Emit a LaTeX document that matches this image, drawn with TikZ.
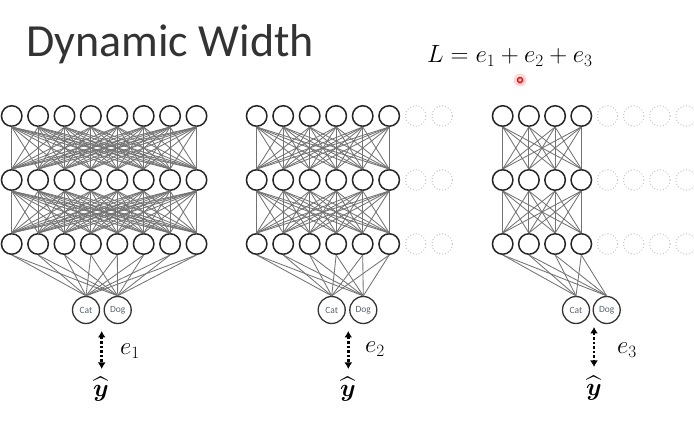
\documentclass[tikz,border=0pt]{standalone}
\usepackage{amsmath, amssymb}
\usepackage{fontspec}
\newfontfamily\calibri{Carlito}
\usepackage{tikz}
\usetikzlibrary{arrows.meta}
\definecolor{catdog}{HTML}{5A6470}

\begin{document}
\begin{tikzpicture}[x=1pt, y=-1pt,
    neuron/.style={circle, draw=black!85, line width=1.5pt, minimum size=20.5pt, inner sep=0pt},
    ghost/.style={circle, draw=black!22, dotted, line width=1pt, minimum size=20.5pt, inner sep=0pt},
    outnode/.style={circle, draw=black!80, line width=1.3pt, minimum size=27pt, inner sep=0pt,
      font=\calibri\fontsize{9.5}{10}\selectfont, text=catdog},
    conn/.style={black!55, line width=0.85pt},
    errarrow/.style={dash pattern=on 2.6pt off 1.9pt, line width=2.5pt,
      {Latex[length=6.5pt,width=8pt]}-{Latex[length=6.5pt,width=8pt]}},
    elabel/.style={anchor=base west, inner sep=0pt, font=\fontsize{24}{27}\selectfont},
    target/.style={anchor=base, inner sep=0pt, font=\fontsize{27}{30}\selectfont}]
  \useasboundingbox (0,0) rectangle (694,430);
  % --- Titre et fonction de perte ---
  \node[anchor=base west, inner sep=0pt, font=\calibri\fontsize{46}{50}\selectfont, text=black!80]
    (title) at (26,57) {Dynamic Width};
  \node[anchor=base west, inner sep=0pt, font=\fontsize{23.5}{27}\selectfont]
    (loss) at (427,63) {$L = e_1 + e_2 + e_3$};
  % pointeur laser
  \node[circle, fill=red!25, opacity=0.6, minimum size=13pt, inner sep=0pt] (pointer) at (520,80) {};
  \node[circle, draw=red, fill=red!15, line width=1.4pt, minimum size=5pt, inner sep=0pt] at (pointer) {};

  % --- Reseau 1 : huit neurones par couche ---
  \foreach \r/\y in {1/116,2/180,3/244}
    \foreach \i in {1,...,8}
      \node[neuron] (a-\r-\i) at ({11.7+26.4*(\i-1)},\y) {};
  \foreach \i in {1,...,8}
    \foreach \j in {1,...,8} {
      \draw[conn] (a-1-\i.south) -- (a-2-\j.north);
      \draw[conn] (a-2-\i.south) -- (a-3-\j.north);
    }
  \node[outnode] (a-cat) at (86,310) {Cat};
  \node[outnode] (a-dog) at (117.7,310) {Dog};
  \foreach \i in {1,...,8} {
    \draw[conn] (a-3-\i.south) -- (a-cat.north);
    \draw[conn] (a-3-\i.south) -- (a-dog.north);
  }
  \coordinate (a-top) at (101.7,331);
  \coordinate (a-bot) at (101.7,369);
  \draw[errarrow] (a-top) -- (a-bot);
  \node[elabel] (a-err) at (120,355) {$e_1$};
  \node[target] (a-hat) at (101,397) {$\widehat{\boldsymbol{y}}$};

  % --- Reseau 2 : six neurones actifs ---
  \foreach \r/\y in {1/116,2/180,3/244} {
    \foreach \i in {1,...,6}
      \node[neuron] (b-\r-\i) at ({256.7+26.5*(\i-1)},\y) {};
    \foreach \i in {7,8}
      \node[ghost] (b-\r-\i) at ({256.7+26.5*(\i-1)},\y) {};
  }
  \foreach \i in {1,...,6}
    \foreach \j in {1,...,6} {
      \draw[conn] (b-1-\i.south) -- (b-2-\j.north);
      \draw[conn] (b-2-\i.south) -- (b-3-\j.north);
    }
  \node[outnode] (b-cat) at (331.7,310) {Cat};
  \node[outnode] (b-dog) at (363.3,310) {Dog};
  \foreach \i in {1,...,6} {
    \draw[conn] (b-3-\i.south) -- (b-cat.north);
    \draw[conn] (b-3-\i.south) -- (b-dog.north);
  }
  \coordinate (b-top) at (348.3,331);
  \coordinate (b-bot) at (348.3,369);
  \draw[errarrow] (b-top) -- (b-bot);
  \node[elabel] (b-err) at (365,353) {$e_2$};
  \node[target] (b-hat) at (348,397) {$\widehat{\boldsymbol{y}}$};

  % --- Reseau 3 : quatre neurones actifs ---
  \foreach \r/\y in {1/116,2/180,3/244} {
    \foreach \i in {1,...,4}
      \node[neuron] (c-\r-\i) at ({502.7+26.2*(\i-1)},\y) {};
    \foreach \i in {5,...,8}
      \node[ghost] (c-\r-\i) at ({502.7+26.2*(\i-1)},\y) {};
  }
  \foreach \i in {1,...,4}
    \foreach \j in {1,...,4} {
      \draw[conn] (c-1-\i.south) -- (c-2-\j.north);
      \draw[conn] (c-2-\i.south) -- (c-3-\j.north);
    }
  \node[outnode] (c-cat) at (576,310) {Cat};
  \node[outnode] (c-dog) at (606.7,310) {Dog};
  \foreach \i in {1,...,4} {
    \draw[conn] (c-3-\i.south) -- (c-cat.north);
    \draw[conn] (c-3-\i.south) -- (c-dog.north);
  }
  \coordinate (c-top) at (594,327);
  \coordinate (c-bot) at (594,367);
  \draw[errarrow] (c-top) -- (c-bot);
  \node[elabel] (c-err) at (617,354) {$e_3$};
  \node[target] (c-hat) at (594,396) {$\widehat{\boldsymbol{y}}$};
\end{tikzpicture}
\end{document}
